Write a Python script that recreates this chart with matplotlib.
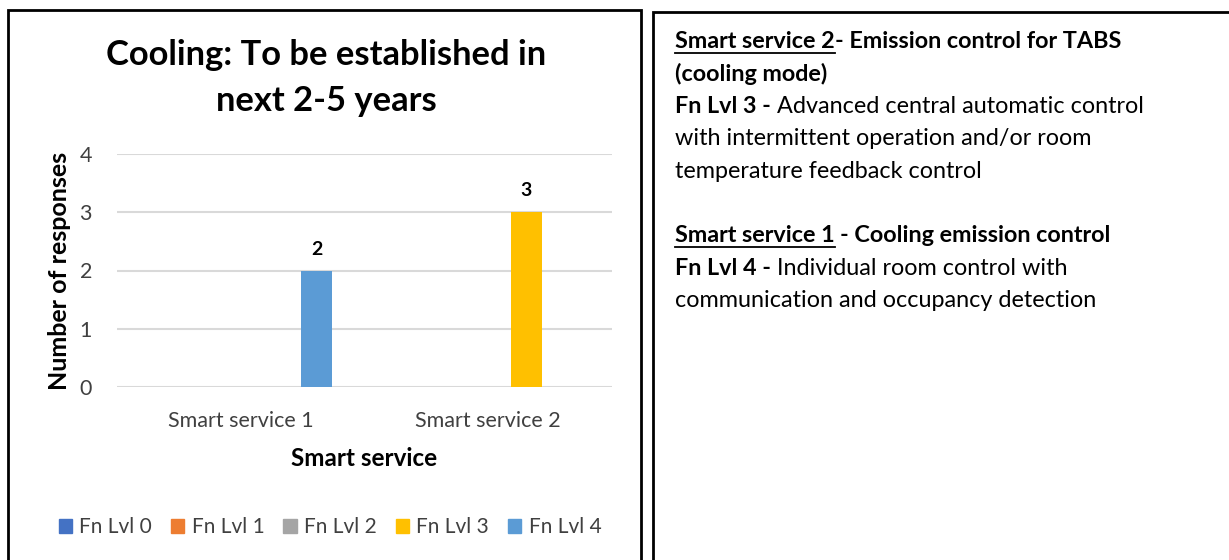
import matplotlib
matplotlib.use("Agg")
import matplotlib.pyplot as plt
from matplotlib.patches import Rectangle
from matplotlib.lines import Line2D
import numpy as np

# data
services = ["Smart service 1", "Smart service 2"]
levels = ["Fn Lvl 0", "Fn Lvl 1", "Fn Lvl 2", "Fn Lvl 3", "Fn Lvl 4"]
lvl0 = [0, 0]
lvl1 = [0, 0]
lvl2 = [0, 0]
lvl3 = [0, 3]
lvl4 = [2, 0]
colors = ["#4472C4", "#ED7D31", "#A5A5A5", "#FFC000", "#5B9BD5"]

title_lines = ["Cooling: To be established in", "next 2-5 years"]

# right-hand notes: list of lines, each a list of (text, bold, underline)
notes = [
    [("Smart service 2", True, True), ("- Emission control for TABS", True, False)],
    [("(cooling mode)", True, False)],
    [("Fn Lvl 3 -", True, False), (" Advanced central automatic control", False, False)],
    [("with intermittent operation and/or room", False, False)],
    [("temperature feedback control", False, False)],
    [],
    [("Smart service 1", True, True), (" - Cooling emission control", True, False)],
    [("Fn Lvl 4 -", True, False), (" Individual room control with", False, False)],
    [("communication and occupancy detection", False, False)],
]

plt.rcParams['font.family'] = ['Lato', 'DejaVu Sans']
W, H = 1229, 560
fig = plt.figure(figsize=(W / 100, H / 100), dpi=100)

def fx(px):
    return px / W

def fy(py):
    return 1 - py / H

# borders
fig.patches.append(Rectangle((fx(8), fy(575)), fx(633), 565.5 / H, transform=fig.transFigure,
                             fill=False, ec="black", lw=2))
fig.patches.append(Rectangle((fx(653), fy(575)), fx(600), 563 / H, transform=fig.transFigure,
                             fill=False, ec="black", lw=2))

# chart
ax = fig.add_axes([fx(117), fy(387), fx(612 - 117), (387 - 154) / H])
x = np.arange(len(services))
series = [lvl0, lvl1, lvl2, lvl3, lvl4]
step = 0.1535
bw = 0.125
for i, (vals, c) in enumerate(zip(series, colors)):
    pos = x + (i - 2) * step
    ax.bar(pos, vals, width=bw, color=c, zorder=3, label=levels[i])
    for p, v in zip(pos, vals):
        if v > 0:
            ax.text(p, v + 0.22, str(v), ha="center", va="bottom", fontsize=14,
                    fontweight="bold", color="black")

ax.set_xlim(-0.5, 1.5)
ax.set_ylim(0, 4)
ax.set_yticks([0, 1, 2, 3, 4])
ax.grid(axis="y", color="#D9D9D9", lw=1.5, zorder=0)
for s in ax.spines.values():
    s.set_visible(False)
ax.tick_params(length=0, labelsize=15.5, colors="#404040")
ax.tick_params(axis="x", pad=17)
ax.tick_params(axis="y", pad=18)
ax.set_xticks(x)
ax.set_xticklabels(services)
ax.set_xlabel("Smart service", fontsize=17.5, fontweight="bold", labelpad=12)
ax.set_ylabel("Number of responses", fontsize=18, fontweight="bold", labelpad=6)

for i, line in enumerate(title_lines):
    fig.text(fx(326), fy(55 + 46 * i), line, ha="center", va="center",
             fontsize=24.8, fontweight="bold")

handles = [Rectangle((0, 0), 1, 1, color=c) for c in colors]
fig.legend(handles, levels, loc="center", bbox_to_anchor=(fx(330), fy(527)), ncol=5,
           frameon=False, fontsize=15, handlelength=0.65, handleheight=0.65,
           handletextpad=0.35, columnspacing=0.9, labelcolor="#404040")

# rich text notes
fig.canvas.draw()
r = fig.canvas.get_renderer()
fs = 16.8

def width_of(s, bold):
    t = fig.text(0, 0, s, fontsize=fs, fontweight="bold" if bold else "normal")
    w = t.get_window_extent(r).width
    t.remove()
    return w

sp_w = {b: width_of("x x", b) - width_of("xx", b) for b in (True, False)}

y0 = 42
for li, line in enumerate(notes):
    cy = y0 + li * 32.3
    xp = 675
    for txt, bold, ul in line:
        lead = len(txt) - len(txt.lstrip(" "))
        xp += lead * sp_w[bold]
        s = txt.strip(" ")
        t = fig.text(fx(xp), fy(cy), s, fontsize=fs, va="center",
                     fontweight="bold" if bold else "normal")
        w = t.get_window_extent(r).width
        if ul:
            fig.add_artist(Line2D([fx(xp), fx(xp + w)], [fy(cy + 11), fy(cy + 11)],
                                  transform=fig.transFigure, color="black", lw=1.3))
        xp += w

fig.savefig("out.png", dpi=100)
